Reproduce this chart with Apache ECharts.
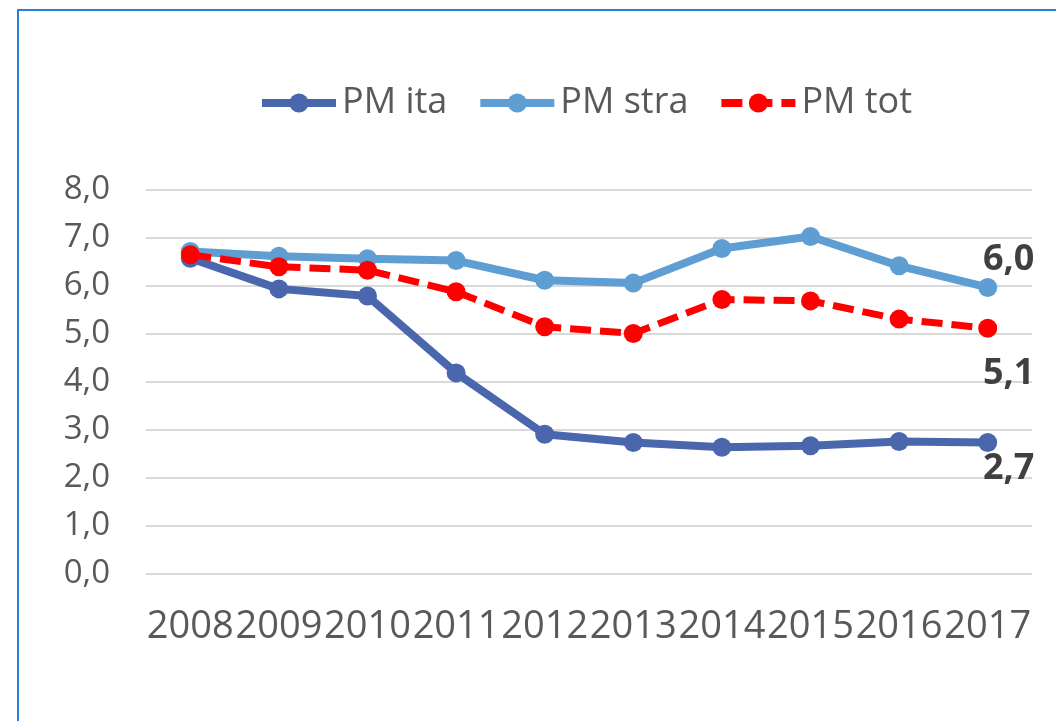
<!DOCTYPE html>
<html>
<head>
<meta charset="utf-8">
<script src="https://cdn.jsdelivr.net/npm/echarts@6/dist/echarts.min.js"></script>
<style>
  html, body { margin: 0; padding: 0; background: #fff; }
  #chart { position: absolute; left: 0; top: 0; width: 1056px; height: 721px; }
  .frame { position: absolute; left: 17px; top: 9px; width: 1100px; height: 800px; border: 2px solid #2b7fd4; pointer-events: none; }
</style>
</head>
<body>
<div id="chart"></div>
<div class="frame"></div>
<script>
const years = ['2008', '2009', '2010', '2011', '2012', '2013', '2014', '2015', '2016', '2017']
const pmIta = [6.58, 5.94, 5.79, 4.19, 2.91, 2.74, 2.64, 2.67, 2.76, 2.74]
const pmStra = [6.72, 6.62, 6.57, 6.53, 6.12, 6.06, 6.78, 7.03, 6.42, 5.97]
const pmTot = [6.65, 6.40, 6.33, 5.88, 5.15, 5.01, 5.72, 5.69, 5.31, 5.12]

const fmt = v => Number(v).toFixed(1).replace('.', ',')

// only the last point of each line carries a label
function lastLabel(offset, position) {
  return {
    show: true,
    position,
    offset,
    formatter: p => (p.dataIndex === years.length - 1 ? fmt(p.value) : ''),
    color: '#404040',
    fontFamily: 'Open Sans',
    fontWeight: 'bold',
    fontSize: 36,
  }
}

const chart = echarts.init(document.getElementById('chart'))

chart.setOption({
  animation: false,
  textStyle: { fontFamily: 'Open Sans' },
  legend: {
    left: 258,
    top: 85,
    padding: 0,
    itemWidth: 74,
    itemHeight: 24,
    itemGap: 29,
    lineStyle: { width: 8 },
    textStyle: { color: '#595959', fontSize: 36, fontFamily: 'Open Sans', padding: [0, 0, 0, 1] },
    data: ['PM ita', 'PM stra', 'PM tot'],
  },
  grid: { left: 146, right: 24, top: 190, bottom: 147 },
  xAxis: {
    type: 'category',
    data: years,
    boundaryGap: true,
    axisLine: { show: false },
    axisTick: { show: false },
    axisLabel: { color: '#595959', fontSize: 38, margin: 34, interval: 0 },
  },
  yAxis: {
    type: 'value',
    min: 0,
    max: 8,
    interval: 1,
    axisLine: { show: false },
    axisTick: { show: false },
    axisLabel: { color: '#595959', fontSize: 33, margin: 36, formatter: fmt },
    splitLine: { lineStyle: { color: '#d9d9d9', width: 2 } },
  },
  series: [
    {
      name: 'PM ita',
      type: 'line',
      data: pmIta,
      symbol: 'circle',
      symbolSize: 19,
      color: '#4a67ad',
      lineStyle: { width: 8, color: '#4a67ad' },
      itemStyle: { color: '#4a67ad' },
      label: lastLabel([21, -6], 'bottom'),
      z: 2,
    },
    {
      name: 'PM stra',
      type: 'line',
      data: pmStra,
      symbol: 'circle',
      symbolSize: 19,
      color: '#5e9ed3',
      lineStyle: { width: 8, color: '#5e9ed3' },
      itemStyle: { color: '#5e9ed3' },
      label: lastLabel([21, 5], 'top'),
      z: 3,
    },
    {
      name: 'PM tot',
      type: 'line',
      data: pmTot,
      symbol: 'circle',
      symbolSize: 19,
      color: '#ff0000',
      lineStyle: { width: 7, color: '#ff0000', type: [21, 9] },
      itemStyle: { color: '#ff0000' },
      label: lastLabel([21, 13], 'bottom'),
      z: 4,
    },
  ],
})
</script>
</body>
</html>
